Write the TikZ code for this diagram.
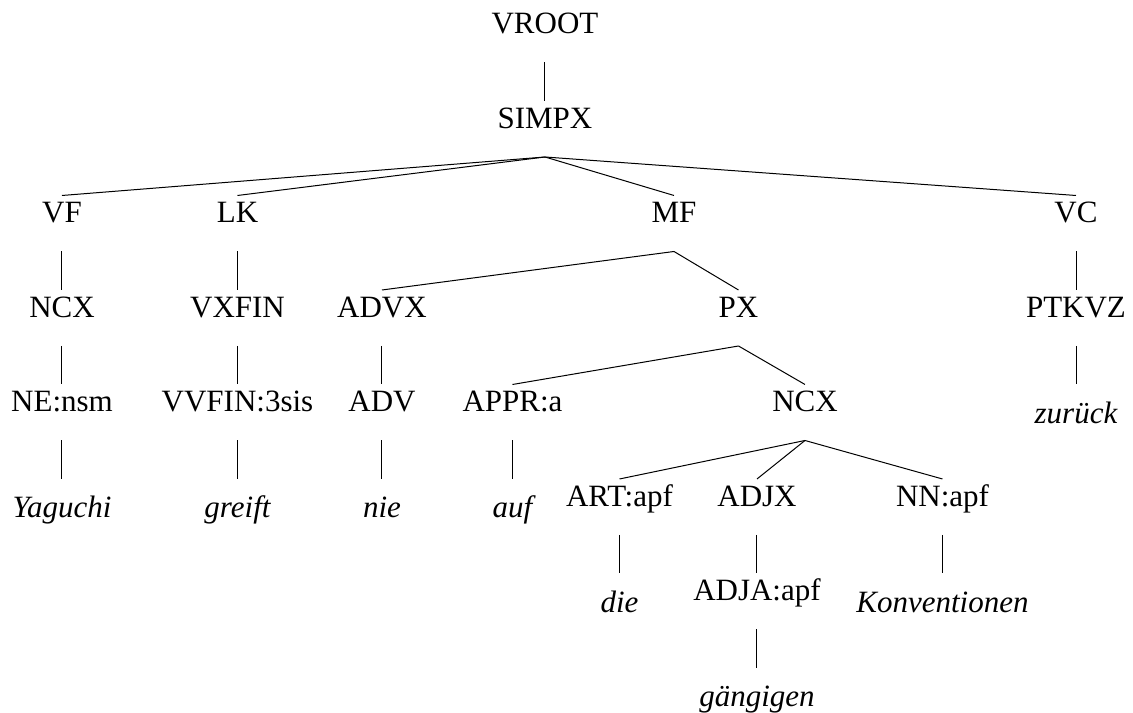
\documentclass[tikz,border=0pt]{standalone}
\usepackage{fontspec}
\setmainfont{Liberation Serif}
\usetikzlibrary{positioning}

\begin{document}
\begin{tikzpicture}[
node distance = 15.4pt,
font=\fontsize{12.4pt}{15pt}\selectfont,
cat/.style={inner sep = 0pt, text height=10.8pt, text depth=11.2pt},
word/.style={inner sep = 0pt, text height=15.4pt, text depth=6pt, font=\fontsize{12.4pt}{15pt}\selectfont\itshape},
edge/.style={thin, black}]
\useasboundingbox (-218pt,13.6pt) rectangle (235.2pt,-271.6pt);

\node[cat, anchor=base] (vroot) at (0,0) {VROOT};
\node[cat] (simpx) [below = of vroot] {SIMPX};

% topological fields
\node[cat] (vf) [below = of simpx, xshift=-193.2pt] {VF};
\node[cat] (lk) [below = of simpx, xshift=-123pt] {LK};
\node[cat] (mf) [below = of simpx, xshift=51.6pt] {MF};
\node[cat] (vc) [below = of simpx, xshift=212.4pt] {VC};

\node[cat] (ncxa) [below = of vf] {NCX};
\node[cat] (ne) [below = of ncxa] {NE:nsm};
\node[word] (yaguchi) [below = of ne] {Yaguchi};

\node[cat] (vxfin) [below = of lk] {VXFIN};
\node[cat] (vvfin) [below = of vxfin] {VVFIN:3sis};
\node[word] (greift) [below = of vvfin] {greift};

\node[cat] (advx) [below = of mf, xshift=-116.8pt] {ADVX};
\node[cat] (px) [below = of mf, xshift=25.8pt] {PX};
\node[cat] (adv) [below = of advx] {ADV};
\node[word] (nie) [below = of adv] {nie};

\node[cat] (appr) [below = of px, xshift=-90.4pt] {APPR:a};
\node[cat] (ncxb) [below = of px, xshift=26.6pt] {NCX};
\node[word] (auf) [below = of appr] {auf};

\node[cat] (art) [below = of ncxb, xshift=-74.2pt] {ART:apf};
\node[cat] (adjx) [below = of ncxb, xshift=-19.2pt] {ADJX};
\node[cat] (nn) [below = of ncxb, xshift=55pt] {NN:apf};
\node[word] (die) [below = of art] {die};
\node[cat] (adja) [below = of adjx] {ADJA:apf};
\node[word] (gaengigen) [below = of adja] {gängigen};
\node[word] (konv) [below = of nn] {Konventionen};

\node[cat] (ptkvz) [below = of vc] {PTKVZ};
\node[word] (zurueck) [below = of ptkvz] {zurück};

\draw[edge](vroot.south)--(simpx.north);
\draw[edge](simpx.south)--(vf.north);
\draw[edge](simpx.south)--(lk.north);
\draw[edge](simpx.south)--(mf.north);
\draw[edge](simpx.south)--(vc.north);

\draw[edge](vf.south)--(ncxa.north);
\draw[edge](ncxa.south)--(ne.north);
\draw[edge](ne.south)--(yaguchi.north);

\draw[edge](lk.south)--(vxfin.north);
\draw[edge](vxfin.south)--(vvfin.north);
\draw[edge](vvfin.south)--(greift.north);

\draw[edge](mf.south)--(advx.north);
\draw[edge](mf.south)--(px.north);
\draw[edge](advx.south)--(adv.north);
\draw[edge](adv.south)--(nie.north);

\draw[edge](px.south)--(appr.north);
\draw[edge](px.south)--(ncxb.north);
\draw[edge](appr.south)--(auf.north);

\draw[edge](ncxb.south)--(art.north);
\draw[edge](ncxb.south)--(adjx.north);
\draw[edge](ncxb.south)--(nn.north);
\draw[edge](art.south)--(die.north);
\draw[edge](adjx.south)--(adja.north);
\draw[edge](adja.south)--(gaengigen.north);
\draw[edge](nn.south)--(konv.north);

\draw[edge](vc.south)--(ptkvz.north);
\draw[edge](ptkvz.south)--(zurueck.north);
\end{tikzpicture}
\end{document}
